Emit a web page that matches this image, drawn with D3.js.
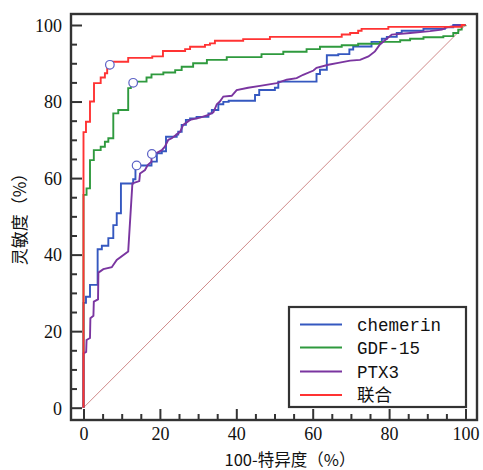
<!DOCTYPE html>
<html><head><meta charset="utf-8">
<script src="https://cdn.jsdelivr.net/npm/d3@7"></script>
<style>body{margin:0;background:#fff}</style>
</head><body>
<svg id="c" width="483" height="470"></svg>
<script>
const seriesNames = ["chemerin","GDF-15","PTX3","联合"];
const seriesColors = ["#3558c0","#2f9a3e","#7a35a0","#ff3333"];
const chemerin = [[0,0],[0,27.4],[0.65,29],[1.7,32.1],[3.7,41.4],[4.8,42.3],[6.5,44.3],[7.8,47.7],[8.7,50.8],[9.8,58.6],[13.0,59.7],[13.6,63.3],[17.8,64.3],[19.2,66.5],[20.5,67],[21.6,70.8],[24.4,71.4],[24.8,72.1],[25.7,73.9],[26.8,75.2],[27.9,75.6],[29.6,76],[32.7,76.9],[33.6,77.8],[35.3,79.3],[36.6,79.9],[38.0,80.2],[44.9,81.7],[46,83],[50.1,83.6],[51,85.2],[61,87.2],[61.9,88.3],[63.7,92.1],[66.7,92.4],[69.6,93.6],[70.6,94.4],[75.4,95.6],[78.1,96.4],[79.4,96.9],[82,97.9],[83.3,98.5],[89,99],[94.6,99.4],[96.8,100],[100,100]];
const gdf15 = [[0,0],[0,55.6],[0.8,57.3],[1.7,64.7],[2.7,67.3],[4.5,68.2],[5.6,69.5],[6.5,70.4],[7.8,76.9],[9.1,77.8],[11.7,83.5],[12.4,84.1],[13.0,85.2],[16.5,86.3],[17.8,87.1],[20.9,87.6],[24,88.2],[25.7,89.1],[28.7,90],[32.3,90.9],[37.5,91.6],[46.6,92.4],[52.3,93],[58.4,93.7],[61.9,94.3],[67.6,94.7],[71.9,95.1],[77.6,95.6],[82.9,96],[85.5,96.4],[89,96.8],[94.2,97.1],[96.8,97.9],[98.1,98.8],[99,99.9],[100,100]];
const ptx3 = [[0,0],[0,14.2],[0.7,14.6],[0.8,17.7],[1.7,18.2],[1.8,23.4],[2.6,24],[2.7,27.7],[3.8,28.3],[3.9,35.3],[5.2,36.2],[7.4,36.7],[8.7,38.6],[11.7,40.8],[12.8,58.6],[14.6,59.2],[14.8,61.2],[16.1,62.1],[16.8,63.4],[17.8,64.3],[17.8,66.3],[19.2,66.6],[20.5,67.3],[21.3,68.2],[22.2,70],[23.1,70.4],[25.3,72.1],[26.1,73.9],[27.9,75.2],[30.5,75.8],[32.7,76.5],[34,77.2],[34.9,79.3],[35.7,80],[36.6,81.3],[38.8,81.5],[40.1,83],[43.1,83.6],[46.2,84.1],[50.6,84.8],[53.2,85.7],[55.8,86.1],[57.5,87],[60.2,88.1],[61,88.8],[64.1,89.6],[66.7,90.1],[69.8,90.7],[72.4,90.9],[74.6,91.8],[76.3,93.1],[77.6,94.9],[79.4,96.4],[80.7,97.5],[85.5,97.9],[90.7,98.4],[93.8,98.8],[95.1,99.4],[97.7,99.9],[100,100]];
const combined = [[0,0],[0,72],[0.65,74.7],[1.7,80],[2.75,84.8],[4.5,86.3],[5.6,87.4],[6.2,88.7],[6.9,89.6],[7.5,90.4],[11.7,91.4],[18,91.8],[20.8,93.2],[26.6,93.7],[27.9,94.3],[31.8,94.8],[33.1,95.2],[34.4,95.9],[41.8,96.3],[48.8,96.9],[67.6,97.5],[69.8,97.9],[71.9,98.5],[72.8,99],[79.8,99.5],[99,100],[100,100]];
const cutoffs = [[13.9,63.3],[13.0,84.9],[17.9,66.3],[6.9,89.6]];
const majorTicks = [0,20,40,60,80,100];
const xTitle = "100-特异度（%）";
const yTitle = "灵敏度（%）";

const svg = d3.select("#c");
const x = d3.scaleLinear().domain([0,100]).range([83.5,465.5]);
const y = d3.scaleLinear().domain([0,100]).range([407.7,25]);
const frame = {l:71, t:14, r:477, b:420};
const minorTicks = d3.range(0,101,5).filter(v=>v%20!==0);

svg.append("line").attr("x1",x(0)).attr("y1",y(0)).attr("x2",x(100)).attr("y2",y(100))
  .attr("stroke","#d08a8a").attr("stroke-width",1);

const stepLine = d3.line().x(d=>x(d[0])).y(d=>y(d[1])).curve(d3.curveStepAfter);
const linLine = d3.line().x(d=>x(d[0])).y(d=>y(d[1]));
const series = [[chemerin,stepLine],[gdf15,stepLine],[ptx3,linLine],[combined,stepLine]];
series.forEach((s,i)=>{
  svg.append("path").attr("d",s[1](s[0])).attr("fill","none")
    .attr("stroke",seriesColors[i]).attr("stroke-width",1.9).attr("stroke-linejoin","miter");
});
svg.selectAll("circle.cut").data(cutoffs).join("circle").attr("class","cut")
  .attr("cx",d=>x(d[0])).attr("cy",d=>y(d[1])).attr("r",4.3)
  .attr("fill","#fff").attr("stroke","#5d63c6").attr("stroke-width",1.2);

svg.append("rect").attr("x",frame.l).attr("y",frame.t).attr("width",frame.r-frame.l).attr("height",frame.b-frame.t)
  .attr("fill","none").attr("stroke","#333").attr("stroke-width",2.4);

const tickStyle = g=>{g.select(".domain").remove(); g.selectAll("line").attr("stroke","#333").attr("stroke-width",2);};
const gx = svg.append("g").attr("transform",`translate(0,${frame.b})`)
  .call(d3.axisBottom(x).tickValues(majorTicks).tickSize(-11).tickPadding(0).tickFormat(d3.format("d")));
tickStyle(gx);
gx.selectAll("text").attr("y",20).attr("dy","0").attr("font-family","Liberation Serif").attr("font-size",18).attr("fill","#111");
const gxm = svg.append("g").attr("transform",`translate(0,${frame.b})`)
  .call(d3.axisBottom(x).tickValues(minorTicks).tickSize(-6).tickFormat(""));
tickStyle(gxm);
const gy = svg.append("g").attr("transform",`translate(${frame.l},0)`)
  .call(d3.axisLeft(y).tickValues(majorTicks).tickSize(-11).tickPadding(9).tickFormat(d3.format("d")));
tickStyle(gy);
gy.selectAll("text").attr("dy","0.35em").attr("font-family","Liberation Serif").attr("font-size",18).attr("fill","#111");
const gym = svg.append("g").attr("transform",`translate(${frame.l},0)`)
  .call(d3.axisLeft(y).tickValues(minorTicks).tickSize(-6).tickFormat(""));
tickStyle(gym);

svg.append("text").attr("x",290).attr("y",466).attr("text-anchor","middle")
  .attr("font-family","Noto Sans CJK SC").attr("font-size",16.5).attr("fill","#111").text(xTitle);
svg.append("text").attr("transform","translate(26,215) rotate(-90)").attr("text-anchor","middle")
  .attr("font-family","Noto Sans CJK SC").attr("font-size",17).attr("fill","#111").text(yTitle);

const lg = svg.append("g");
lg.append("rect").attr("x",289).attr("y",307).attr("width",177).attr("height",100)
  .attr("fill","#fff").attr("stroke","#333").attr("stroke-width",2.2);
const rowY = [324.5,347.5,371.5,395];
seriesNames.forEach((n,i)=>{
  lg.append("line").attr("x1",300).attr("x2",342).attr("y1",rowY[i]).attr("y2",rowY[i])
    .attr("stroke",seriesColors[i]).attr("stroke-width",1.8);
  lg.append("text").attr("x",357).attr("y",rowY[i]).attr("dy","0.35em")
    .attr("font-family", i===3 ? "Noto Sans CJK SC" : "Liberation Mono")
    .attr("font-size",17.5).attr("fill","#111").text(n);
});
</script>
</body></html>
